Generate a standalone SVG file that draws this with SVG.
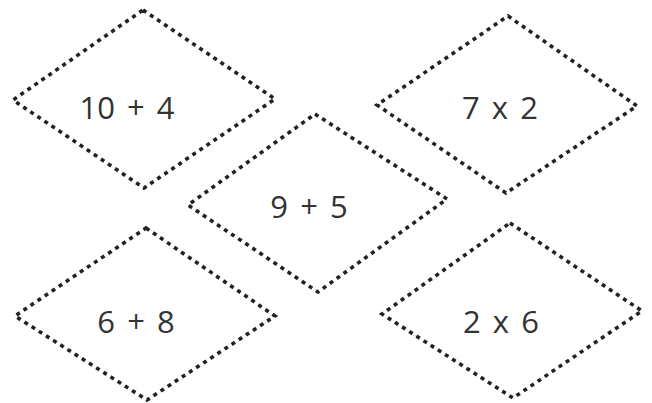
<svg xmlns="http://www.w3.org/2000/svg" width="652" height="403" viewBox="0 0 652 403">
<style>
.d{fill:none;stroke:#222;stroke-width:3.6;stroke-dasharray:4 4.5;}
.t{font-family:"Open Sans","DejaVu Sans",sans-serif;font-size:31px;fill:#333;text-anchor:middle;word-spacing:4px;}
</style>
<rect width="652" height="403" fill="#fff"/>
<g id="n1"><polygon class="d" points="143,10 275,99 144,188 13,100"/><text class="t" x="127" y="119">10 + 4</text></g>
<g id="n2"><polygon class="d" points="508,16 637,106 506,193 377,105"/><text class="t" x="500" y="119">7 x 2</text></g>
<g id="n3"><polygon class="d" points="315,114 447,199 318,292 188,205"/><text class="t" x="309" y="218">9 + 5</text></g>
<g id="n4"><polygon class="d" points="146,228 275,316 147,400 15,316"/><text class="t" x="136" y="333">6 + 8</text></g>
<g id="n5"><polygon class="d" points="510,223 642,311 513,398 382,314"/><text class="t" x="501" y="333">2 x 6</text></g>
<g id="connectors"/>
</svg>
